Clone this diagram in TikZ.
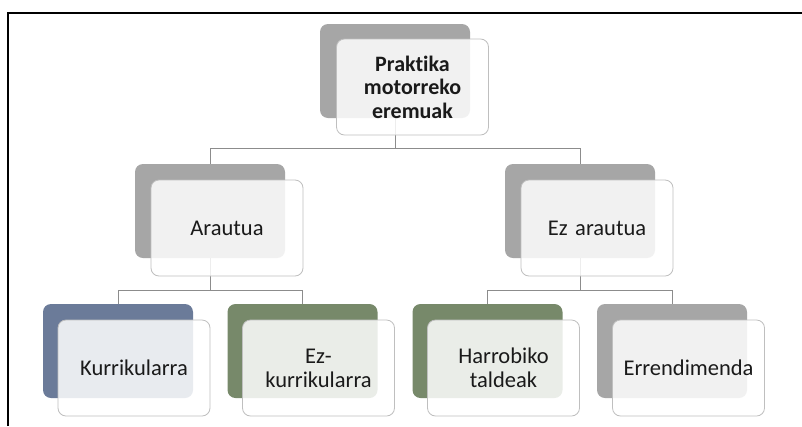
\documentclass[tikz,border=0pt]{standalone}
\usepackage{fontspec}
\setmainfont{Carlito}[Ligatures=NoCommon]
\definecolor{backgray}{HTML}{A6A6A6}
\definecolor{backblue}{HTML}{6B7B99}
\definecolor{backgreen}{HTML}{77896A}
\definecolor{frontedge}{HTML}{BFBFBF}
\definecolor{conncol}{HTML}{8C8C8C}
\definecolor{txt}{HTML}{1A1A1A}
\tikzset{
  backbox/.style={rounded corners=8pt, minimum width=150pt, minimum height=94pt, inner sep=0pt},
  frontbox/.style={draw=frontedge, line width=0.8pt, fill=white, fill opacity=0.85, text opacity=1,
    rounded corners=8pt, minimum width=152pt, minimum height=96pt, inner sep=2pt,
    align=center, text width=145pt, text=txt,
    font=\fontsize{22.5}{24}\selectfont},
  conn/.style={draw=conncol, line width=0.8pt}
}
\begin{document}
\begin{tikzpicture}[x=1pt,y=-1pt]
\useasboundingbox (0,0) rectangle (802,426);
\fill[white] (0,0) rectangle (802,426);
\draw[black, line width=1.6pt] (8,426) -- (8,13) -- (802,13);
% back boxes
\node[backbox, fill=backgray] (rootB) at (395,71) {};
\node[backbox, fill=backgray] (arB) at (210,211) {};
\node[backbox, fill=backgray] (ezB) at (580,211) {};
\node[backbox, fill=backblue] (kuB) at (118,351) {};
\node[backbox, fill=backgreen] (ekB) at (302.5,351) {};
\node[backbox, fill=backgreen] (haB) at (487.5,351) {};
\node[backbox, fill=backgray] (erB) at (672,351) {};
% connectors
\draw[conn] (rootB.south) -- ++(0,30) coordinate (h1) -| (arB.north);
\draw[conn] (h1) -| (ezB.north);
\draw[conn] (arB.south) -- ++(0,32) coordinate (h2) -| (kuB.north);
\draw[conn] (h2) -| (ekB.north);
\draw[conn] (ezB.south) -- ++(0,32) coordinate (h3) -| (haB.north);
\draw[conn] (h3) -| (erB.north);
% front boxes
\node[frontbox, font=\fontsize{22}{23.5}\selectfont\bfseries] (rootF) at (412.5,87) {Praktika\\motorreko\\eremuak};
\node[frontbox] (arF) at (227,228) {Arautua};
\node[frontbox] (ezF) at (597,228) {Ez arautua};
\node[frontbox] (kuF) at (134,368) {Kurrikularra};
\node[frontbox] (ekF) at (318.5,368) {Ez-\\kurrikularra};
\node[frontbox] (haF) at (503.5,368) {Harrobiko\\taldeak};
\node[frontbox] (erF) at (688.5,368) {Errendimenda};
\end{tikzpicture}
\end{document}
